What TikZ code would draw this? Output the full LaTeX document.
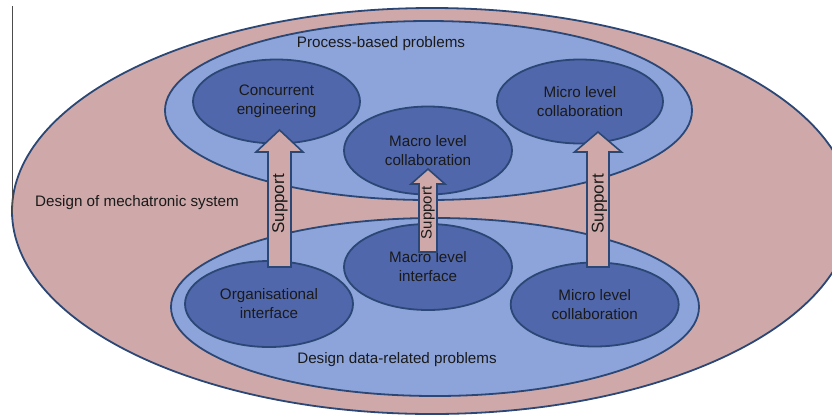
\documentclass[tikz,border=0pt]{standalone}
\usepackage{fontspec}
\setmainfont{Liberation Sans}
\usetikzlibrary{shapes.geometric}
\definecolor{pinkf}{HTML}{CFA9A9}
\definecolor{lightb}{HTML}{8DA4DA}
\definecolor{darkb}{HTML}{5167AB}
\definecolor{edgec}{HTML}{2B4775}
\definecolor{txt}{HTML}{1A1A1A}
\newcommand\suparrow[6]{% x, ybottom, ytip, yheadbase, shaftw, headw
  \draw[arrowbody] (#1-#5/2,#2) -- (#1-#5/2,#4) -- (#1-#6/2,#4) -- (#1,#3)
    -- (#1+#6/2,#4) -- (#1+#5/2,#4) -- (#1+#5/2,#2) -- cycle;}
\begin{document}
\begin{tikzpicture}[x=1bp,y=-1bp,
  region/.style={ellipse, draw=edgec, line width=1.8bp, inner sep=0pt},
  outerreg/.style={region, fill=pinkf},
  midreg/.style={region, fill=lightb},
  topic/.style={region, fill=darkb, text=txt, align=center,
    font=\fontsize{15.2bp}{19bp}\selectfont},
  lbl/.style={text=txt, inner sep=0pt, font=\fontsize{15.2bp}{19bp}\selectfont},
  suptext/.style={text=txt, inner sep=0pt, rotate=90,
    font=\fontsize{17bp}{19bp}\selectfont},
  arrowbody/.style={fill=pinkf, draw=edgec, line width=1.6bp, line join=miter},
]
\useasboundingbox (0,0) rectangle (832,417);
\clip (0,0) rectangle (832,417);
% outer region
\node[outerreg, minimum width=840bp, minimum height=406bp] (system) at (432,211) {};
\draw[gray!60!black, line width=1bp] (12.5,6) -- (12.5,213);
% middle regions
\node[midreg, minimum width=527bp, minimum height=179bp] (process) at (428.5,110.5) {};
\node[midreg, minimum width=528bp, minimum height=178bp] (data) at (435,307) {};
% topics
\node[topic, minimum width=167bp, minimum height=84bp] (ce) at (276.5,101.5) {Concurrent\\engineering};
\node[topic, minimum width=166bp, minimum height=84bp] (mlct) at (580,101.5) {Micro level\\collaboration};
\node[topic, minimum width=168bp, minimum height=88bp] (macc) at (428,150.5) {Macro level\\collaboration};
\node[topic, minimum width=168bp, minimum height=86bp] (maci) at (428,267) {Macro level\\interface};
\node[topic, minimum width=168bp, minimum height=86bp] (org) at (269,304) {Organisational\\interface};
\node[topic, minimum width=168bp, minimum height=84bp] (mlcb) at (594.7,304.5) {Micro level\\collaboration};
% labels
\node[lbl] (lsys) at (137,203) {Design of mechatronic system};
\node[lbl] (lproc) at (381,44) {Process-based problems};
\node[lbl] (ldata) at (397,360) {Design data-related problems};
% support arrows
\suparrow{279.5}{267}{130}{152}{23}{47}
\suparrow{428}{252}{169}{184}{18}{34}
\suparrow{598}{267}{132}{152}{22}{47}
\node[suptext] (s1) at (280,204) {Support};
\node[suptext, font=\fontsize{15bp}{17bp}\selectfont] (s2) at (428,213) {Support};
\node[suptext] (s3) at (599.5,204) {Support};
\end{tikzpicture}
\end{document}
